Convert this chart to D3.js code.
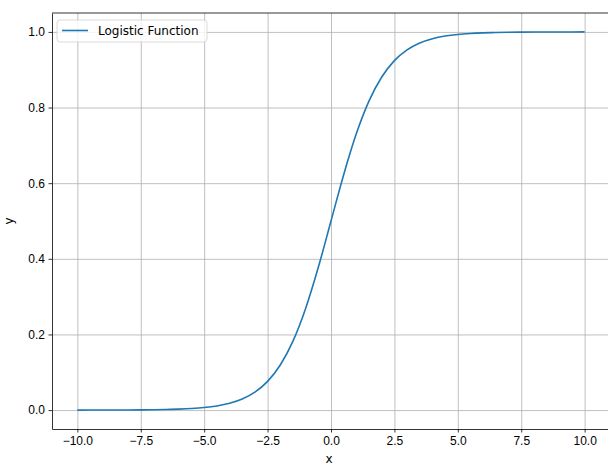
<!DOCTYPE html>
<html>
<head>
<meta charset="utf-8">
<script src="https://cdn.jsdelivr.net/npm/d3@7"></script>
<style>
  body { margin: 0; background: #fff; }
  svg { font-family: "DejaVu Sans", sans-serif; }
  .axis text { font-size: 12px; fill: #000; }
  .axis path, .axis line { stroke: #000; stroke-width: 0.8px; }
  .grid line { stroke: #b0b0b0; stroke-width: 0.8px; }
  .grid path { display: none; }
</style>
</head>
<body>
<svg class="chart"></svg>
<script>
// values
var xValues = [-10, -9.5, -9, -8.5, -8, -7.5, -7, -6.5, -6, -5.5, -5, -4.5, -4, -3.5, -3, -2.5, -2, -1.5, -1, -0.5,
               0, 0.5, 1, 1.5, 2, 2.5, 3, 3.5, 4, 4.5, 5, 5.5, 6, 6.5, 7, 7.5, 8, 8.5, 9, 9.5, 10];
var yValues = [0.0000, 0.0001, 0.0001, 0.0002, 0.0003, 0.0006, 0.0009, 0.0015, 0.0025, 0.0041, 0.0067, 0.0110, 0.0180, 0.0293, 0.0474, 0.0759, 0.1192, 0.1824, 0.2689, 0.3775,
               0.5000, 0.6225, 0.7311, 0.8176, 0.8808, 0.9241, 0.9526, 0.9707, 0.9820, 0.9890, 0.9933, 0.9959, 0.9975, 0.9985, 0.9991, 0.9994, 0.9997, 0.9998, 0.9999, 0.9999, 1.0000];
var xTicks = [-10, -7.5, -5, -2.5, 0, 2.5, 5, 7.5, 10];
var yTicks = [0, 0.2, 0.4, 0.6, 0.8, 1.0];
var seriesName = "Logistic Function";

var width = 608, height = 465;
var margin = {top: 13, right: -2, bottom: 36, left: 52};
var w = width - margin.left - margin.right,
    h = height - margin.top - margin.bottom;

var chart = d3.select('.chart')
    .attr("width", width)
    .attr("height", height);

var g = chart.append("g").attr("transform", "translate(" + margin.left + "," + margin.top + ")");

var xScale = d3.scaleLinear().domain([-11, 11]).range([0, w]);
var yScale = d3.scaleLinear().domain([-0.05, 1.05]).range([h, 0]);

// gridlines
g.append("g")
    .attr("class", "grid")
    .attr("transform", "translate(0," + h + ")")
    .call(d3.axisBottom(xScale).tickValues(xTicks).tickSize(-h).tickFormat(""));
g.append("g")
    .attr("class", "grid")
    .call(d3.axisLeft(yScale).tickValues(yTicks).tickSize(-w).tickFormat(""));

// the curve
var data = xValues.map(function(x, i){ return {x: x, y: yValues[i]}; });
var line = d3.line()
    .curve(d3.curveMonotoneX)
    .x(function(d){ return xScale(d.x); })
    .y(function(d){ return yScale(d.y); });

g.append("path")
    .datum(data)
    .attr("fill", "none")
    .attr("stroke", "#1f77b4")
    .attr("stroke-width", 1.6)
    .attr("d", line);

// axes
g.append("g")
    .attr("class", "axis x")
    .attr("transform", "translate(0," + h + ")")
    .call(d3.axisBottom(xScale).tickValues(xTicks).tickSize(3.5).tickPadding(3.5).tickSizeOuter(0).tickFormat(d3.format(".1f")));
g.append("g")
    .attr("class", "axis y")
    .call(d3.axisLeft(yScale).tickValues(yTicks).tickSize(3.5).tickPadding(3.5).tickSizeOuter(0).tickFormat(d3.format(".1f")));

// top / right spines
g.append("line").attr("x1", 0).attr("x2", w).attr("y1", 0).attr("y2", 0)
    .attr("stroke", "#000").attr("stroke-width", 0.8);
g.append("line").attr("x1", w).attr("x2", w).attr("y1", 0).attr("y2", h)
    .attr("stroke", "#000").attr("stroke-width", 0.8);

// axis labels
chart.append("text")
    .attr("x", margin.left + w / 2 - 2)
    .attr("y", 463)
    .attr("text-anchor", "middle")
    .style("font-size", "12px")
    .text("x");
chart.append("text")
    .attr("transform", "translate(13," + (margin.top + yScale(0.5)) + ") rotate(-90)")
    .attr("text-anchor", "middle")
    .style("font-size", "12px")
    .text("y");

// legend
var legend = chart.append("g").attr("transform", "translate(57,20)");
legend.append("rect")
    .attr("width", 150).attr("height", 22)
    .attr("rx", 3)
    .attr("fill", "#fff").attr("fill-opacity", 0.8)
    .attr("stroke", "#d0d0d0").attr("stroke-width", 0.8);
legend.append("line")
    .attr("x1", 5).attr("x2", 31).attr("y1", 10.5).attr("y2", 10.5)
    .attr("stroke", "#1f77b4").attr("stroke-width", 1.6);
legend.append("text")
    .attr("x", 41).attr("y", 15)
    .style("font-size", "12px")
    .text(seriesName);
</script>
</body>
</html>
